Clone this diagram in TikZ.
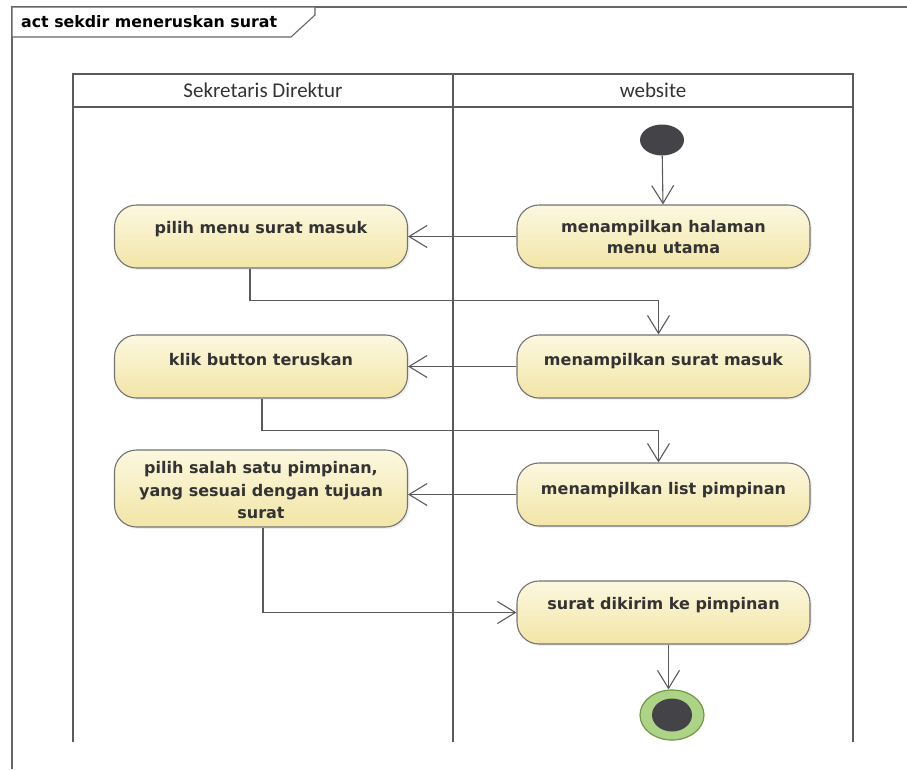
\documentclass[tikz,border=0pt]{standalone}
\usepackage{fontspec}
\setmainfont{DejaVu Sans}
\newfontfamily\headfont{Carlito}
\usetikzlibrary{arrows.meta,shapes.geometric,shadows}
\definecolor{actA}{HTML}{FCF8E0}
\definecolor{actB}{HTML}{F2E5A6}
\definecolor{lineC}{HTML}{5A5A5A}
\definecolor{endG}{HTML}{ADD387}
\definecolor{endGd}{HTML}{6E9A45}
\definecolor{dotC}{HTML}{444448}
\begin{document}
\begin{tikzpicture}[x=1pt,y=-1pt,
  act/.style={draw=black!55, line width=1.1pt, rounded corners=22pt,
    top color=actA, bottom color=actB, minimum width=293pt, minimum height=63pt,
    inner sep=0pt, drop shadow={opacity=0.12, shadow xshift=2pt, shadow yshift=-2pt}},
  acttext/.style={font=\bfseries\fontsize{16}{21}\selectfont, text=black!80, align=center, inner sep=0pt, anchor=north},
  flow/.style={draw=lineC, line width=1.1pt, -{Straight Barb[length=18pt,width=22pt,line width=1.1pt]}},
  lane/.style={draw=lineC, line width=1.8pt},
  headtext/.style={font=\headfont\fontsize{21}{23}\selectfont, text=black!80}
]
\useasboundingbox (0,0) rectangle (907,769);
% frame
\draw[draw=black!60, line width=1.3pt] (12,769) -- (12,7) -- (907,7);
\draw[draw=black!60, line width=1.1pt, fill=white] (12,7) -- (315,7) -- (315,15) -- (291,37) -- (12,37) -- cycle;
\node[font=\bfseries\fontsize{15.8}{18}\selectfont, anchor=west, inner sep=0pt] (title) at (21,22) {act sekdir meneruskan surat};
% lanes
\draw[lane] (73,742) -- (73,74) -- (853,74) -- (853,742);
\draw[lane] (453,74) -- (453,742);
\draw[lane] (73,107) -- (853,107);
\node[headtext] (h1) at (263,90) {Sekretaris Direktur};
\node[headtext] (h2) at (653,90) {website};
% nodes
\node[ellipse, fill=dotC, minimum width=44pt, minimum height=31pt, inner sep=0pt] (start) at (662,140) {};
\node[act] (A1) at (663.5,236.5) {};
\node[acttext] (tA1) at ([yshift=-16pt]A1.north) {menampilkan halaman\\menu utama};
\node[act] (L1) at (261,236.5) {};
\node[acttext] (tL1) at ([yshift=-17pt]L1.north) {pilih menu surat masuk};
\node[act] (A2) at (663.5,366.5) {};
\node[acttext] (tA2) at ([yshift=-19pt]A2.north) {menampilkan surat masuk};
\node[act] (L2) at (261,366.5) {};
\node[acttext] (tL2) at ([yshift=-19pt]L2.north) {klik button teruskan};
\node[act] (A3) at (663.5,494.5) {};
\node[acttext] (tA3) at ([yshift=-20pt]A3.north) {menampilkan list pimpinan};
\node[act, minimum height=77pt] (L3) at (261,488.5) {};
\node[acttext, font=\bfseries\fontsize{16}{22.5}\selectfont] (tL3) at ([yshift=-12pt]L3.north) {pilih salah satu pimpinan,\\yang sesuai dengan tujuan\\surat};
\node[act] (A4) at (663.5,612.5) {};
\node[acttext] (tA4) at ([yshift=-17pt]A4.north) {surat dikirim ke pimpinan};
\node[ellipse, draw=endGd, line width=1.2pt, fill=endG, minimum width=64pt, minimum height=50pt, inner sep=0pt] (end) at (672,715) {};
\node[ellipse, fill=dotC, minimum width=40pt, minimum height=33pt, inner sep=0pt] (endin) at (672,715) {};
% connectors
\draw[flow] (start) -- (A1);
\draw[flow] (A1.west) -- (A1.west -| L1.east);
\draw[flow] ([xshift=-11pt]L1.south) -- ++(0,32) -| ([xshift=-5pt]A2.north);
\draw[flow] (A2.west) -- (A2.west -| L2.east);
\draw[flow] ([xshift=1pt]L2.south) -- ++(0,32) -| ([xshift=-5pt]A3.north);
\draw[flow] (A3.west) -- (A3.west -| L3.east);
\draw[flow] ([xshift=2pt]L3.south) |- (A4.west);
\draw[flow] ([xshift=5pt]A4.south) -- ([xshift=5pt]A4.south |- end.north);
\end{tikzpicture}
\end{document}
